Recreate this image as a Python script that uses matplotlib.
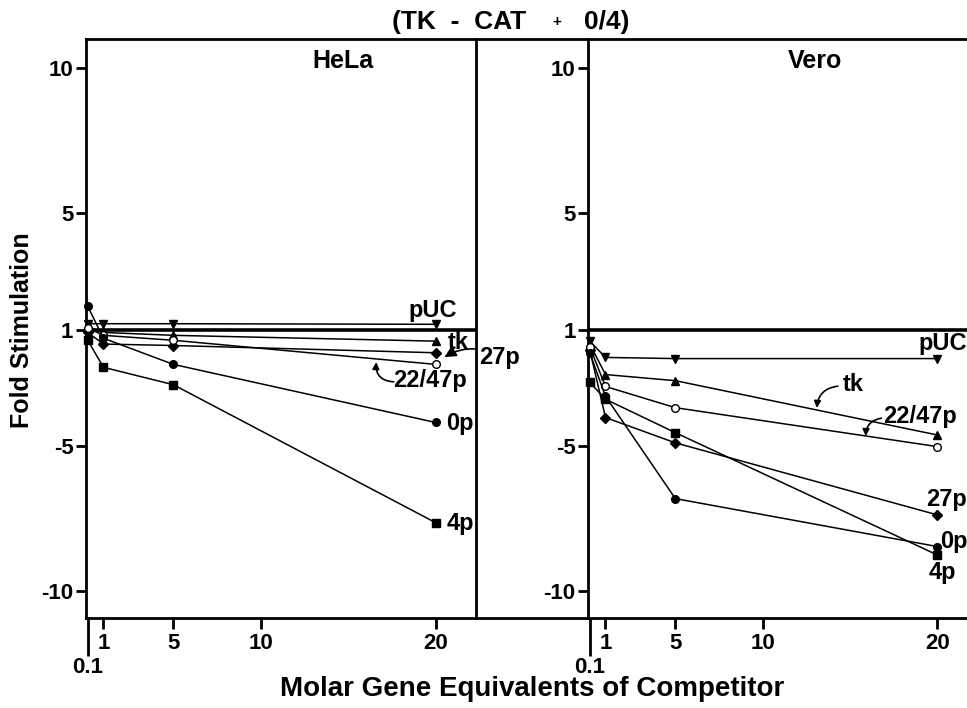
import numpy as np
import matplotlib
matplotlib.use('Agg')
import matplotlib.pyplot as plt
from matplotlib.lines import Line2D
from matplotlib.ticker import FixedLocator, FixedFormatter, NullLocator

plt.rcParams['font.family'] = ['Liberation Sans', 'DejaVu Sans']
plt.rcParams['font.weight'] = 'bold'

# molar gene equivalents of competitor
x = [0.1, 1, 5, 20]

# fold stimulation (negative = fold inhibition)
hela_puc = [1.2, 1.2, 1.2, 1.18]
hela_tk = [1.1, -1.1, -1.2, -1.4]
hela_27p = [-1.1, -1.5, -1.55, -1.8]
hela_2247p = [1.05, -1.2, -1.37, -2.2]
hela_0p = [1.8, -1.3, -2.2, -4.2]
hela_4p = [-1.37, -2.3, -2.9, -7.65]

vero_puc = [-1.4, -1.96, -2.0, -2.0]
vero_tk = [-1.5, -2.55, -2.76, -4.63]
vero_2247p = [-1.6, -2.96, -3.69, -5.03]
vero_27p = [-1.7, -4.03, -4.9, -7.38]
vero_0p = [-1.8, -3.3, -6.82, -8.47]
vero_4p = [-2.82, -3.4, -4.55, -8.76]

yticks = [10, 5, 1, -5, -10]
ytick_labels = ['10', '5', '1', '-5', '-10']
xticks = [1, 5, 10, 20]


def fold_fwd(v):
    # 1 and -1 sit at the same place on the axis
    v = np.asarray(v, dtype=float)
    return np.where(v >= 0, v - 1, v + 1)


def fold_inv(p):
    p = np.asarray(p, dtype=float)
    return np.where(p >= 0, p + 1, p - 1)


def draw_panel(ax, series, xmax):
    ax.set_yscale('function', functions=(fold_fwd, fold_inv))
    ax.axhline(1, color='k', lw=2.6, zorder=1)
    for y, m, fc in series:
        ax.plot(x, y, color='k', lw=1.1, marker=m, ms=5.5, mfc=fc, mec='k',
                mew=1, zorder=3, clip_on=False)
    ax.set_ylim(-10.93, 11.0)
    ax.set_xlim(0, xmax)
    ax.yaxis.set_major_locator(FixedLocator(yticks))
    ax.yaxis.set_major_formatter(FixedFormatter(ytick_labels))
    ax.yaxis.set_minor_locator(NullLocator())
    ax.xaxis.set_major_locator(FixedLocator(xticks))
    ax.xaxis.set_major_formatter(FixedFormatter([str(t) for t in xticks]))
    ax.xaxis.set_minor_locator(FixedLocator([0.1]))
    ax.xaxis.set_minor_formatter(FixedFormatter(['0.1']))
    ax.tick_params(axis='x', which='major', length=8, width=2, pad=3, labelsize=16)
    ax.tick_params(axis='x', which='minor', length=27, width=2, pad=1, labelsize=16)
    ax.tick_params(axis='y', which='major', length=7, width=2, pad=2, labelsize=16)
    for s in ax.spines.values():
        s.set_linewidth(2)


fig = plt.figure(figsize=(9.67, 7.08), dpi=100)
ax1 = fig.add_axes([0.0889, 0.1271, 0.4033, 0.8178])
ax2 = fig.add_axes([0.6081, 0.1271, 0.3919, 0.8178])

draw_panel(ax1, [(hela_puc, 'v', 'k'), (hela_tk, '^', 'k'), (hela_27p, 'D', 'k'),
                 (hela_2247p, 'o', 'w'), (hela_0p, 'o', 'k'), (hela_4p, 's', 'k')], 22.3)
draw_panel(ax2, [(vero_puc, 'v', 'k'), (vero_tk, '^', 'k'), (vero_27p, 'D', 'k'),
                 (vero_2247p, 'o', 'w'), (vero_0p, 'o', 'k'), (vero_4p, 's', 'k')], 21.7)
ax2.spines['right'].set_visible(False)

# top and bottom frame lines run across the gap between panels
for yy in (0.1271, 0.9449):
    fig.add_artist(Line2D([0.4922, 0.6081], [yy, yy], color='k', lw=2))

fs = 17
ax1.text(0.66, 0.962, 'HeLa', transform=ax1.transAxes, ha='center', va='center', fontsize=18)
ax2.text(0.60, 0.962, 'Vero', transform=ax2.transAxes, ha='center', va='center', fontsize=18)

# HeLa labels
ax1.text(19.8, 1.64, 'pUC', ha='center', va='center', fontsize=fs)
ax1.text(21.3, -1.46, 'tk', ha='center', va='center', fontsize=fs)
ax1.text(21.4, -4.22, '0p', ha='center', va='center', fontsize=fs)
ax1.text(21.4, -7.66, '4p', ha='center', va='center', fontsize=fs)
ax1.annotate('27p', xy=(20.5, -1.95), xytext=(22.5, -1.95), ha='left', va='center',
             fontsize=fs, annotation_clip=False,
             arrowprops=dict(arrowstyle='-|>', color='k', lw=1.2,
                             connectionstyle='arc3,rad=0.3', shrinkA=1, shrinkB=0))
ax1.text(19.7, -2.77, '22/47p', ha='center', va='center', fontsize=fs)
ax1.annotate('', xy=(16.6, -2.12), xytext=(17.6, -2.8),
             arrowprops=dict(arrowstyle='-|>', color='k', lw=1.2,
                             connectionstyle='arc3,rad=-0.5', shrinkA=0, shrinkB=0))

# Vero labels
ax2.text(18.9, -1.48, 'pUC', ha='left', va='center', fontsize=fs, clip_on=False)
ax2.text(15.2, -2.9, 'tk', ha='center', va='center', fontsize=fs)
ax2.annotate('', xy=(13.1, -3.7), xytext=(14.3, -2.95),
             arrowprops=dict(arrowstyle='-|>', color='k', lw=1.2,
                             connectionstyle='arc3,rad=0.4', shrinkA=0, shrinkB=0))
ax2.text(19.0, -3.98, '22/47p', ha='center', va='center', fontsize=fs)
ax2.annotate('', xy=(15.9, -4.67), xytext=(16.8, -4.05),
             arrowprops=dict(arrowstyle='-|>', color='k', lw=1.2,
                             connectionstyle='arc3,rad=0.4', shrinkA=0, shrinkB=0))
ax2.text(20.5, -6.85, '27p', ha='center', va='center', fontsize=fs)
ax2.text(20.15, -8.3, '0p', ha='left', va='center', fontsize=fs)
ax2.text(20.3, -9.37, '4p', ha='center', va='center', fontsize=fs)

# title in pieces: the plus sign is small in the original
fig.text(459 / 967, 0.969, '(TK  -  CAT', ha='center', va='center', fontsize=19)
fig.text(557 / 967, 0.969, '+', ha='center', va='center', fontsize=11)
fig.text(584 / 967, 0.969, '0/4)', ha='left', va='center', fontsize=19)

fig.text(0.023, 0.534, 'Fold Stimulation', rotation=90, ha='center', va='center', fontsize=18)
fig.text(532 / 967, 0.027, 'Molar Gene Equivalents of Competitor', ha='center', va='center',
         fontsize=20)

fig.savefig('out.png', dpi=100)
